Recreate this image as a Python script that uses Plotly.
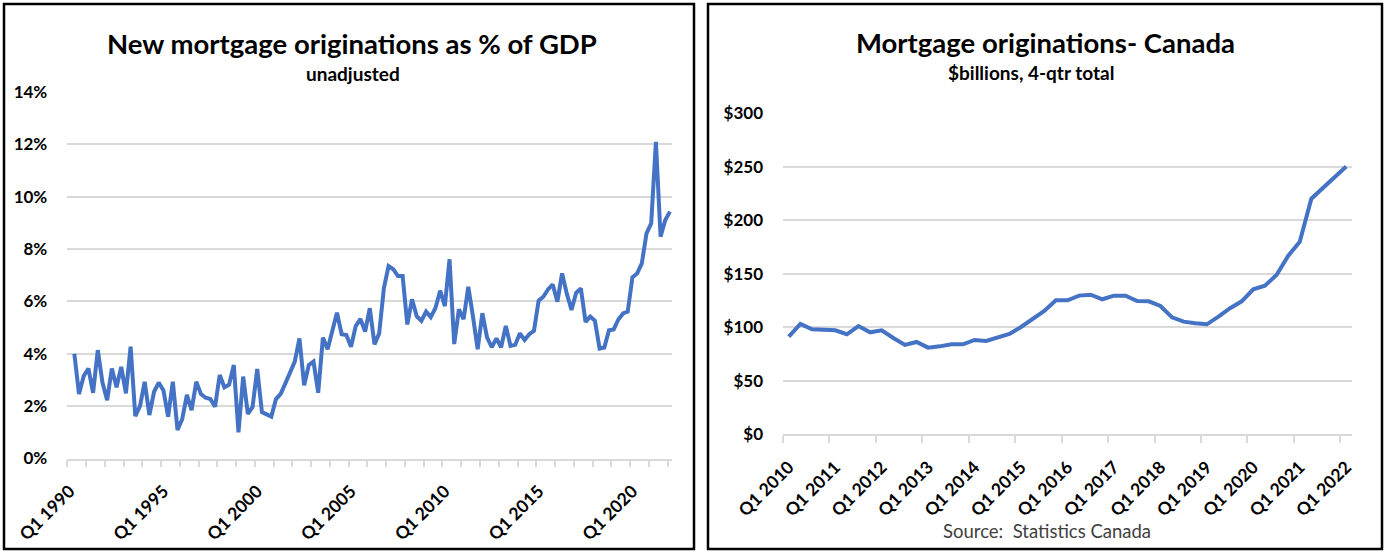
import plotly.graph_objects as go

# ---------------- data ----------------
# Left chart: quarterly categories Q1 1990 .. Q1 2022 (first quarter has no value)
left_categories = [f"Q{q} {y}" for y in range(1990, 2023) for q in range(1, 5)][:129]
left_values = [
    None, 4.00, 2.46, 3.15, 3.44, 2.51, 4.14, 2.90, 2.23, 3.44,
    2.72, 3.50, 2.49, 4.27, 1.62, 2.00, 2.93, 1.66, 2.55, 2.90,
    2.60, 1.60, 2.93, 1.09, 1.50, 2.43, 1.85, 2.93, 2.46, 2.32,
    2.27, 1.98, 3.19, 2.72, 2.82, 3.57, 1.00, 3.13, 1.70, 1.97,
    3.42, 1.77, 1.68, 1.60, 2.27, 2.47, 2.87, 3.32, 3.70, 4.59,
    2.80, 3.57, 3.70, 2.51, 4.62, 4.17, 4.91, 5.57, 4.75, 4.72,
    4.27, 5.06, 5.33, 4.85, 5.74, 4.36, 4.78, 6.50, 7.35, 7.23,
    6.97, 6.97, 5.12, 6.08, 5.44, 5.26, 5.61, 5.40, 5.75, 6.41,
    5.82, 7.61, 4.37, 5.70, 5.32, 6.56, 5.42, 4.17, 5.55, 4.63,
    4.25, 4.59, 4.25, 5.06, 4.30, 4.34, 4.78, 4.53, 4.75, 4.88,
    6.03, 6.18, 6.46, 6.65, 5.99, 7.07, 6.30, 5.67, 6.33, 6.50,
    5.22, 5.42, 5.26, 4.20, 4.24, 4.90, 4.93, 5.31, 5.54, 5.61,
    6.92, 7.07, 7.45, 8.60, 8.98, 12.10, 8.47, 9.11, 9.43,
]
left_tick_labels = ["Q1 1990", "Q1 1995", "Q1 2000", "Q1 2005", "Q1 2010", "Q1 2015", "Q1 2020"]
left_y_ticks = [0, 2, 4, 6, 8, 10, 12, 14]

# Right chart: quarterly categories Q1 2010 .. Q1 2022, $billions 4-qtr total
right_categories = [f"Q{q} {y}" for y in range(2010, 2023) for q in range(1, 5)][:49]
right_values = [
    91.3, 103.1, 98.1, 97.2, 97.2, 93.5, 101.2, 95.3, 97.2, 90.0,
    83.5, 86.3, 81.0, 82.2, 84.1, 84.1, 88.2, 87.2, 90.7, 93.8,
    100.3, 107.5, 115.3, 125.2, 125.2, 129.6, 130.5, 126.2, 129.6, 129.6,
    124.6, 124.3, 119.9, 109.3, 105.3, 103.7, 102.8, 110.0, 117.8, 124.3,
    135.5, 138.9, 148.9, 166.7, 180.0, 220.2, 230.2, 240.2, 250.2,
]
right_tick_labels = ["Q1 2010", "Q1 2011", "Q1 2012", "Q1 2013", "Q1 2014", "Q1 2015", "Q1 2016",
                     "Q1 2017", "Q1 2018", "Q1 2019", "Q1 2020", "Q1 2021", "Q1 2022"]
right_y_ticks = [0, 50, 100, 150, 200, 250, 300]

# ---------------- layout helpers ----------------
W, H = 1385, 552


def fx(px):
    return px / W


def fy(py):
    return 1 - py / H


LINE = "#4472C4"
GRID = "#D9D9D9"
FONT = "Lato"

left_x = list(range(len(left_categories)))
right_x = list(range(len(right_categories)))

fig = go.Figure()
fig.add_trace(go.Scatter(
    x=left_x, y=left_values, customdata=left_categories, mode="lines",
    line=dict(color=LINE, width=4), connectgaps=False,
    hovertemplate="%{customdata}: %{y:.1f}%<extra></extra>", xaxis="x", yaxis="y"))
fig.add_trace(go.Scatter(
    x=right_x, y=right_values, customdata=right_categories, mode="lines",
    line=dict(color=LINE, width=4),
    hovertemplate="%{customdata}: $%{y:.0f}B<extra></extra>", xaxis="x2", yaxis="y2"))

tickfont_x = dict(family=FONT, size=17.5, color="#000000", weight="bold")
tickfont_y = dict(family=FONT, size=17, color="#000000", weight="bold")


def xaxis_cfg(cats, labels, domain, anchor):
    n = len(cats)
    return dict(
        domain=domain, range=[-0.5, n - 0.5], anchor=anchor, automargin=False,
        tickmode="array", tickvals=[cats.index(l) for l in labels], ticktext=labels,
        tickangle=-45, ticks="", tickfont=tickfont_x, ticklabelstandoff=14,
        showgrid=False, zeroline=False, showline=True, linecolor=GRID, linewidth=1.5,
        minor=dict(tickmode="array", tickvals=[i - 0.5 for i in range(0, n, 4)],
                   ticks="outside", ticklen=7, tickwidth=1.5, tickcolor=GRID, showgrid=False),
        fixedrange=True,
    )


def yaxis_cfg(ticks, labels, domain, anchor):
    return dict(
        domain=domain, range=[ticks[0], ticks[-1]], tickmode="array", tickvals=ticks,
        ticktext=labels, ticks="", tickfont=tickfont_y, automargin=False,
        ticklabelstandoff=19, showgrid=True, gridcolor=GRID, gridwidth=1.5,
        zeroline=False, showline=False, anchor=anchor, fixedrange=True,
    )


fig.update_layout(
    width=W, height=H, autosize=False,
    margin=dict(l=0, r=0, t=0, b=0, pad=0, autoexpand=False),
    paper_bgcolor="white", plot_bgcolor="white", showlegend=False,
    xaxis=xaxis_cfg(left_categories, left_tick_labels, [fx(67.3), fx(672.3)], "y"),
    yaxis=yaxis_cfg(left_y_ticks, [f"{v}%" for v in left_y_ticks], [fy(458.5), fy(92)], "x"),
    xaxis2=xaxis_cfg(right_categories, right_tick_labels, [fx(783), fx(1352)], "y2"),
    yaxis2=yaxis_cfg(right_y_ticks, [f"${v}" for v in right_y_ticks], [fy(434.3), fy(113.3)], "x2"),
    shapes=[
        dict(type="rect", xref="paper", yref="paper", x0=fx(4), x1=fx(694), y0=fy(549), y1=fy(4),
             line=dict(color="black", width=2.5), fillcolor="rgba(0,0,0,0)", layer="above"),
        dict(type="rect", xref="paper", yref="paper", x0=fx(708), x1=fx(1382), y0=fy(549), y1=fy(4),
             line=dict(color="black", width=2.5), fillcolor="rgba(0,0,0,0)", layer="above"),
    ],
    annotations=[
        dict(text="New mortgage originations as % of GDP", x=fx(352), y=fy(43), xref="paper", yref="paper",
             xanchor="center", yanchor="middle", showarrow=False,
             font=dict(family=FONT, size=27.5, color="#000000", weight="bold")),
        dict(text="unadjusted", x=fx(353), y=fy(73), xref="paper", yref="paper",
             xanchor="center", yanchor="middle", showarrow=False,
             font=dict(family=FONT, size=19, color="#000000", weight="bold")),
        dict(text="Mortgage originations- Canada", x=fx(1045), y=fy(42), xref="paper", yref="paper",
             xanchor="center", yanchor="middle", showarrow=False,
             font=dict(family=FONT, size=27.5, color="#000000", weight="bold")),
        dict(text="$billions, 4-qtr total", x=fx(1031), y=fy(72), xref="paper", yref="paper",
             xanchor="center", yanchor="middle", showarrow=False,
             font=dict(family=FONT, size=19, color="#000000", weight="bold")),
        dict(text="Source:  Statistics Canada", x=fx(1047), y=fy(531), xref="paper", yref="paper",
             xanchor="center", yanchor="middle", showarrow=False,
             font=dict(family=FONT, size=18.5, color="#404040")),
    ],
)

fig.write_html("out.html", config={"responsive": False})
